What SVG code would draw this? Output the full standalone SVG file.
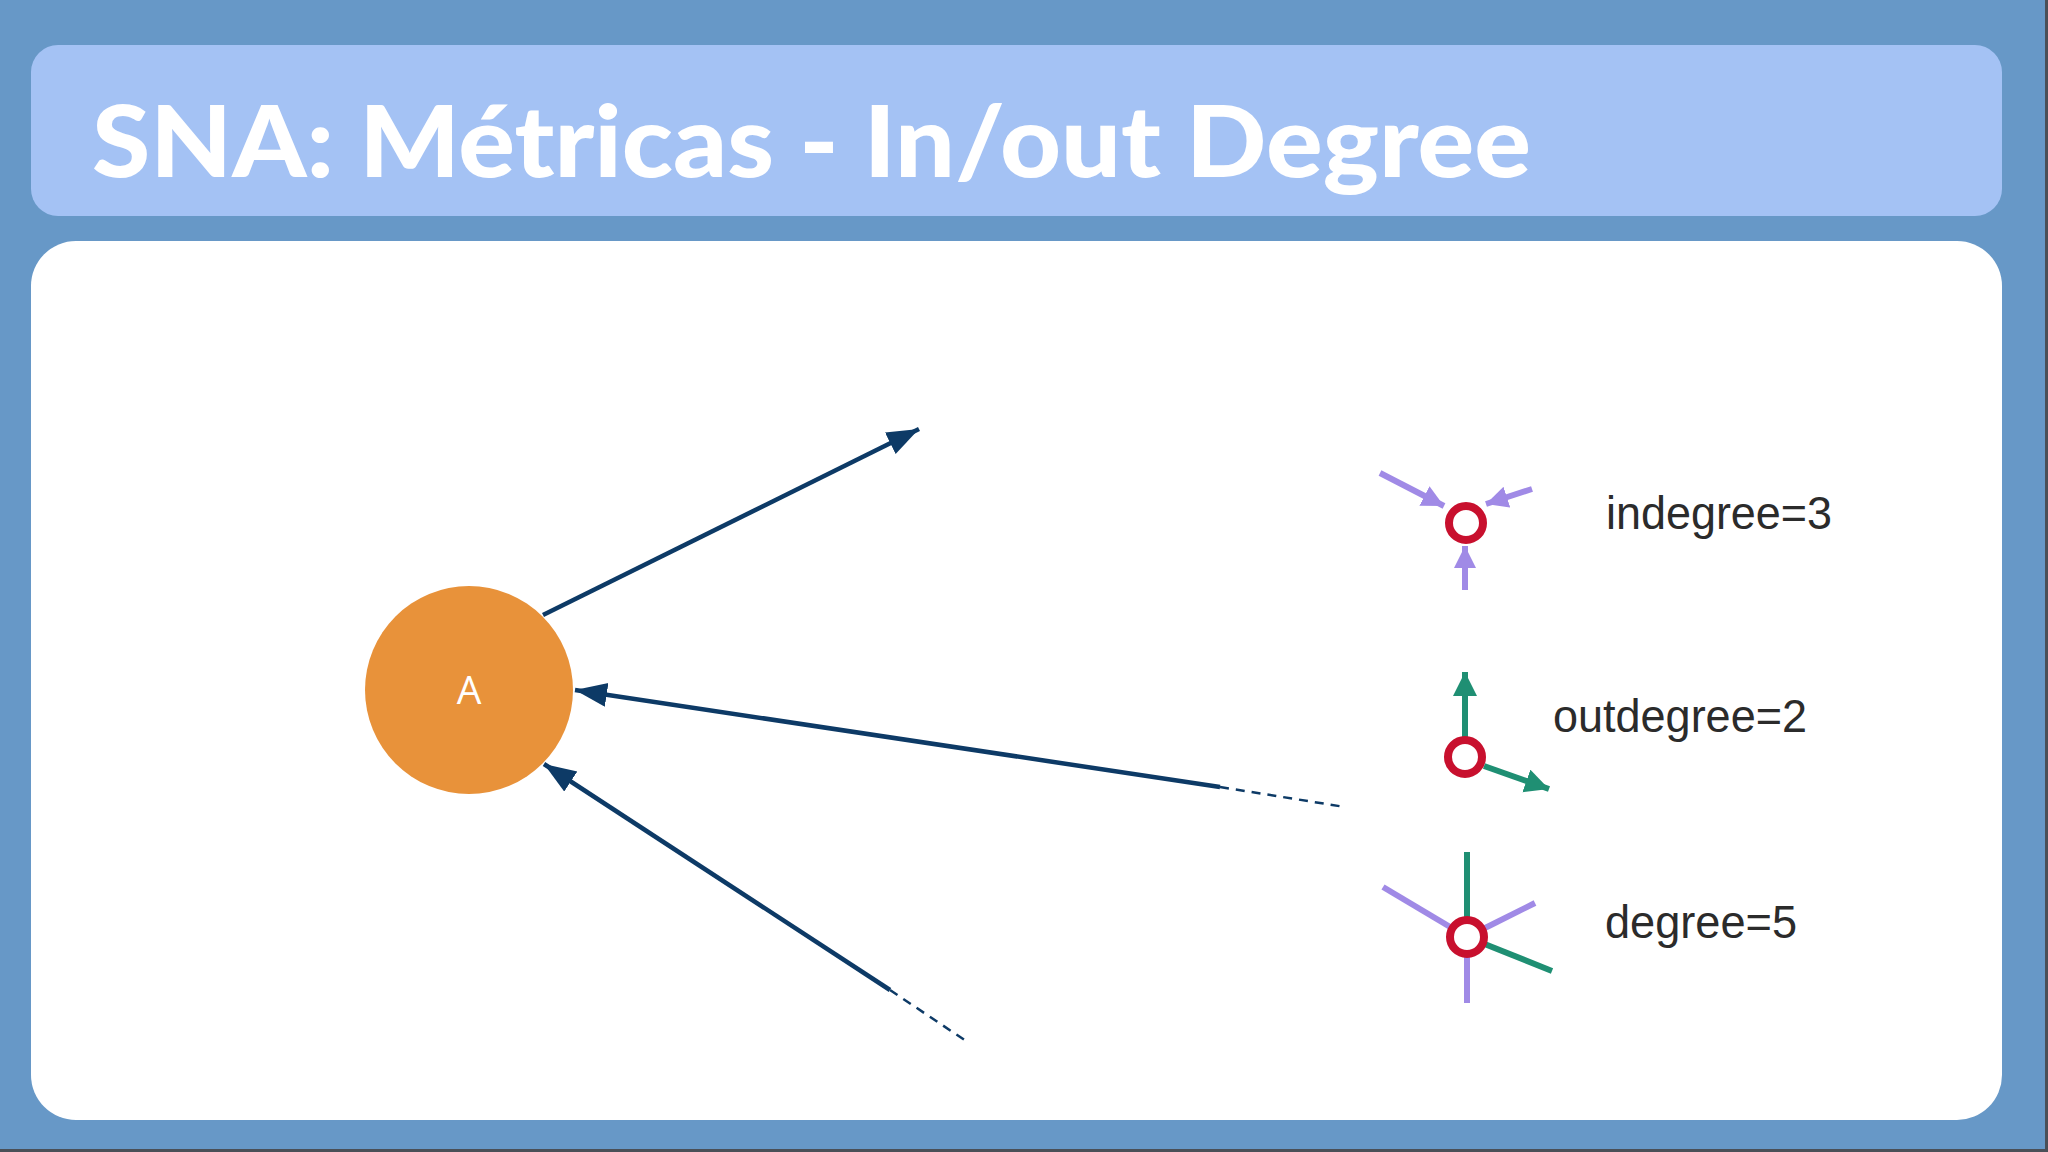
<svg xmlns="http://www.w3.org/2000/svg" width="2048" height="1152" viewBox="0 0 2048 1152">
  <style>
    .title { font-family: "Lato", "Inter", "Liberation Sans", sans-serif; font-weight: 900; font-size: 100px; fill: #ffffff; }
    .node-label { font-family: "Open Sans", "Liberation Sans", sans-serif; font-size: 39px; fill: #ffffff; }
    .legend-text { font-family: "Liberation Sans", Arial, sans-serif; font-size: 46px; fill: #2b2b2b; }
    .edge { stroke: #0d3a66; stroke-width: 4.5; fill: none; }
    .edge-dash { stroke: #0d3a66; stroke-width: 2.5; fill: none; stroke-dasharray: 9 7; }
    .pur { stroke: #a08ae6; stroke-width: 6; fill: none; }
    .grn { stroke: #1f8f73; stroke-width: 6; fill: none; }
    .ring { stroke: #c8102e; stroke-width: 8; fill: #ffffff; }
  </style>
  <defs>
    <marker id="arrowNavy" markerUnits="userSpaceOnUse" markerWidth="34" markerHeight="26" refX="32" refY="12" orient="auto">
      <path d="M0,0 L32,12 L0,24 z" fill="#0d3a66"/>
    </marker>
    <marker id="arrowPur" markerUnits="userSpaceOnUse" markerWidth="24" markerHeight="24" refX="22" refY="11" orient="auto">
      <path d="M0,0 L22,11 L0,22 z" fill="#a08ae6"/>
    </marker>
    <marker id="arrowGrn" markerUnits="userSpaceOnUse" markerWidth="26" markerHeight="26" refX="24" refY="12" orient="auto">
      <path d="M0,0 L24,12 L0,24 z" fill="#1f8f73"/>
    </marker>
  </defs>

  <!-- background -->
  <rect x="0" y="0" width="2048" height="1152" fill="#6798c7"/>
  <rect x="2045" y="0" width="3" height="1152" fill="#4a4f57"/>
  <rect x="0" y="1149" width="2048" height="3" fill="#4a4f57"/>

  <!-- title bar -->
  <g id="title">
    <rect x="31" y="45" width="1971" height="171" rx="27" ry="27" fill="#a4c2f4"/>
    <text class="title" x="92" y="177" textLength="1439" lengthAdjust="spacingAndGlyphs">SNA: Métricas - In/out Degree</text>
  </g>

  <!-- content panel -->
  <rect x="31" y="241" width="1971" height="879" rx="45" ry="45" fill="#ffffff"/>

  <!-- connectors -->
  <g id="connectors">
    <line class="edge" x1="543" y1="615" x2="919" y2="429" marker-end="url(#arrowNavy)"/>
    <line class="edge" x1="1220" y1="787" x2="575" y2="690" marker-end="url(#arrowNavy)"/>
    <line class="edge-dash" x1="1220" y1="787" x2="1345" y2="807"/>
    <line class="edge" x1="890" y1="990" x2="544" y2="764" marker-end="url(#arrowNavy)"/>
    <line class="edge-dash" x1="890" y1="990" x2="969" y2="1043"/>
  </g>

  <!-- node A -->
  <g id="node-A">
    <circle cx="469" cy="690" r="104" fill="#e8923a"/>
    <text class="node-label" x="469" y="704" text-anchor="middle">A</text>
  </g>

  <!-- legend: indegree -->
  <g id="legend-indegree">
    <line class="pur" x1="1380" y1="473" x2="1444" y2="506" marker-end="url(#arrowPur)"/>
    <line class="pur" x1="1532" y1="489" x2="1486" y2="504" marker-end="url(#arrowPur)"/>
    <line class="pur" x1="1465" y1="590" x2="1465" y2="546" marker-end="url(#arrowPur)"/>
    <circle class="ring" cx="1466" cy="523" r="17"/>
    <text class="legend-text" x="1606" y="529" textLength="226" lengthAdjust="spacingAndGlyphs">indegree=3</text>
  </g>

  <!-- legend: outdegree -->
  <g id="legend-outdegree">
    <line class="grn" x1="1465" y1="738" x2="1465" y2="672" marker-end="url(#arrowGrn)"/>
    <line class="grn" x1="1484" y1="766" x2="1549" y2="789" marker-end="url(#arrowGrn)"/>
    <circle class="ring" cx="1465" cy="757" r="17"/>
    <text class="legend-text" x="1553" y="732" textLength="254" lengthAdjust="spacingAndGlyphs">outdegree=2</text>
  </g>

  <!-- legend: degree -->
  <g id="legend-degree">
    <line class="grn" x1="1467" y1="852" x2="1467" y2="937"/>
    <line class="pur" x1="1383" y1="887" x2="1467" y2="937"/>
    <line class="pur" x1="1535" y1="903" x2="1467" y2="937"/>
    <line class="grn" x1="1552" y1="971" x2="1467" y2="937"/>
    <line class="pur" x1="1467" y1="1003" x2="1467" y2="937"/>
    <circle class="ring" cx="1467" cy="937" r="17"/>
    <text class="legend-text" x="1605" y="938" textLength="192" lengthAdjust="spacingAndGlyphs">degree=5</text>
  </g>
</svg>
